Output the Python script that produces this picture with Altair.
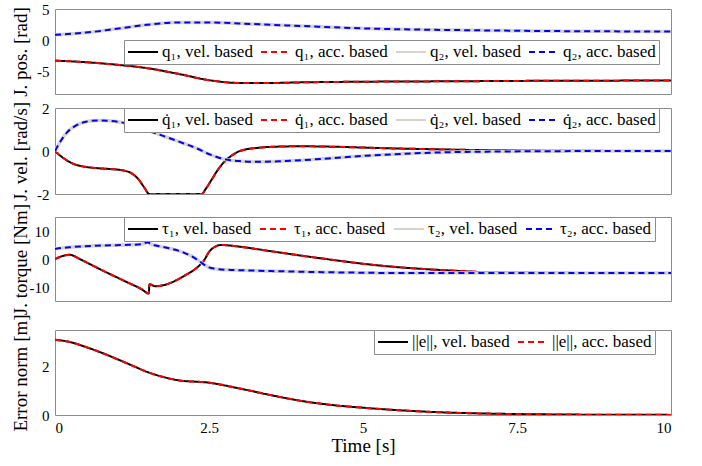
import altair as alt
import pandas as pd

FONT = "Liberation Serif"
GRAY_BOX = "#8c8c8c"

# ---- joint positions [rad] ----
t_pos = [0, 0.5, 1.0, 1.5, 2.0, 2.5, 3.0, 3.5, 4.0, 5.0, 6.0, 7.0, 8.0, 9.0, 10.0]
q1_pos = [-3.2, -3.45, -3.85, -4.4, -5.3, -6.3, -6.75, -6.75, -6.65, -6.55, -6.5, -6.45, -6.4, -6.38, -6.35]
q2_pos = [0.9, 1.25, 1.85, 2.5, 2.87, 2.86, 2.7, 2.5, 2.3, 1.92, 1.72, 1.6, 1.5, 1.45, 1.42]

# ---- joint velocities [rad/s] ----
t_vel = [0, 0.1, 0.2, 0.35, 0.5, 0.7, 0.9, 1.1, 1.25, 1.35, 1.45, 1.53, 1.6, 2.0, 2.38,
         2.45, 2.55, 2.65, 2.75, 2.85, 3.0, 3.3, 3.7, 4.0, 4.5, 5.0, 5.5, 6.0, 6.5, 7.0,
         8.0, 9.0, 10.0]
dq1_vel = [0, -0.25, -0.45, -0.65, -0.74, -0.8, -0.84, -0.9, -1.05, -1.3, -1.7, -2.0, -2.0,
           -2.0, -2.0, -1.75, -1.3, -0.85, -0.5, -0.25, 0.0, 0.15, 0.21, 0.22, 0.2, 0.16,
           0.12, 0.09, 0.06, 0.04, 0.015, 0.005, 0.0]
dq2_vel = [0, 0.5, 0.88, 1.2, 1.36, 1.42, 1.4, 1.32, 1.2, 1.1, 1.0, 0.93, 0.86, 0.45, 0.02,
           -0.08, -0.2, -0.3, -0.38, -0.43, -0.47, -0.5, -0.47, -0.43, -0.33, -0.23, -0.15,
           -0.09, -0.05, -0.03, -0.01, 0.0, 0.0]

# ---- joint torques [Nm] ----
t_tq = [0, 0.1, 0.24, 0.4, 0.6, 0.8, 1.0, 1.2, 1.4, 1.52, 1.535, 1.62, 1.75, 1.9, 2.1,
        2.25, 2.35, 2.42, 2.5, 2.6, 2.7, 2.85, 3.0, 3.5, 4.0, 4.5, 5.0, 5.5, 6.0, 6.5,
        7.0, 8.0, 9.0, 10.0]
tau1 = [0, 0.9, 1.5, 0.0, -2.2, -4.4, -6.5, -8.6, -10.7, -12.3, -9.0, -9.7, -9.4, -8.3,
        -6.0, -4.0, -2.2, -0.5, 2.5, 4.4, 5.0, 4.8, 4.4, 2.8, 1.2, -0.3, -1.7, -2.8, -3.6,
        -4.2, -4.7, -4.9, -5.0, -5.0]
tau2 = [3.6, 3.9, 4.2, 4.45, 4.7, 4.85, 4.95, 5.05, 5.3, 6.0, 5.6, 4.9, 4.3, 3.6, 2.2,
        0.6, -0.9, -2.0, -3.0, -3.5, -3.75, -3.9, -4.0, -4.3, -4.55, -4.75, -4.9, -5.0,
        -5.0, -5.0, -5.0, -5.0, -5.0, -5.0]

# ---- end-effector error norm [m] ----
t_err = [0, 0.25, 0.5, 0.75, 1.0, 1.25, 1.5, 1.8, 2.0, 2.5, 3.0, 3.5, 4.0, 4.5, 5.0,
         5.5, 6.0, 6.5, 7.0, 8.0, 9.0, 10.0]
err_norm = [3.1, 3.0, 2.8, 2.57, 2.31, 2.04, 1.77, 1.54, 1.43, 1.33, 1.09, 0.82, 0.58,
            0.41, 0.3, 0.21, 0.14, 0.09, 0.06, 0.025, 0.01, 0.005]

# ---- series styling ----
COLORS = ["#000000", "#ff0000", "#d6d3cc", "#0000ff"]
DASHES = [[1, 0], [6, 4], [1, 0], [6, 4]]
WIDTHS = [2, 2, 3.5, 2]

PLOT_W = 616


def long_frame(t, series):
    rows = []
    for label, values in series:
        for ti, v in zip(t, values):
            rows.append({"t": ti, "v": v, "s": label})
    return pd.DataFrame(rows)


def panel(df, labels, ydomain, yticks, ytitle, lx, ly, height, show_x=False):
    n = len(labels)
    legend = alt.Legend(
        orient="none", legendX=lx, legendY=ly, direction="horizontal", columns=n,
        title=None, symbolType="stroke", symbolSize=900, symbolStrokeWidth=2,
        labelFont=FONT, labelFontSize=17, labelColor="black", labelLimit=300,
        padding=3, strokeColor=GRAY_BOX, fillColor="white", columnPadding=7,
        labelOffset=3, clipHeight=18,
    )
    color = alt.Color("s:N", scale=alt.Scale(domain=labels, range=COLORS[:n]), legend=legend)
    dash = alt.StrokeDash("s:N", scale=alt.Scale(domain=labels, range=DASHES[:n]), legend=legend)
    if show_x:
        xaxis = alt.Axis(values=[0, 2.5, 5, 7.5, 10], title="Time [s]", grid=False,
                         ticks=False, tickSize=0, domain=False, labelPadding=5,
                         labelExpr="'' + datum.value", titlePadding=1)
    else:
        xaxis = None
    x = alt.X("t:Q", scale=alt.Scale(domain=[0, 10], nice=False), axis=xaxis)
    y = alt.Y("v:Q", scale=alt.Scale(domain=ydomain, nice=False, zero=False),
              axis=alt.Axis(values=yticks, title=ytitle, grid=False, ticks=False,
                            tickSize=0, domain=False, labelPadding=6,
                            labelExpr="'' + datum.value", titleX=-35,
                            titleBaseline="middle"))
    layers = []
    for i, lab in enumerate(labels):
        layers.append(
            alt.Chart(df).transform_filter(alt.datum.s == lab)
            .mark_line(strokeWidth=WIDTHS[i], interpolate="monotone", clip=True)
            .encode(x=x, y=y, color=color, strokeDash=dash)
        )
    return alt.layer(*layers).properties(width=PLOT_W, height=height)


def gap(h):
    # empty band that separates two panels
    return (
        alt.Chart(pd.DataFrame({"g": [0]}))
        .mark_point(opacity=0)
        .encode(x=alt.X("g:Q", axis=None), y=alt.Y("g:Q", axis=None))
        .properties(width=PLOT_W, height=h, view=alt.ViewBackground(stroke=None))
    )


pos_labels = ["q₁, vel. based", "q₁, acc. based", "q₂, vel. based", "q₂, acc. based"]
vel_labels = ["q\u0307₁, vel. based", "q\u0307₁, acc. based",
              "q\u0307₂, vel. based", "q\u0307₂, acc. based"]
tq_labels = ["τ₁, vel. based", "τ₁, acc. based", "τ₂, vel. based", "τ₂, acc. based"]
err_labels = ["||e||, vel. based", "||e||, acc. based"]

p_pos = panel(long_frame(t_pos, zip(pos_labels, [q1_pos, q1_pos, q2_pos, q2_pos])),
              pos_labels, [-8.5, 5], [-5, 0, 5], "J. pos. [rad]", 69, 31, 85)
p_vel = panel(long_frame(t_vel, zip(vel_labels, [dq1_vel, dq1_vel, dq2_vel, dq2_vel])),
              vel_labels, [-2, 2], [-2, 0, 2], "J. vel. [rad/s]", 69, 0, 86)
p_tq = panel(long_frame(t_tq, zip(tq_labels, [tau1, tau1, tau2, tau2])),
             tq_labels, [-15, 15], [-10, 0, 10], "J. torque [Nm]", 69, 0, 84)
p_err = panel(long_frame(t_err, zip(err_labels, [err_norm, err_norm])),
              err_labels, [0, 3.5], [0, 2], "Error norm [m]", 319, 0, 85, show_x=True)

chart = (
    alt.vconcat(p_pos, gap(14), p_vel, gap(23), p_tq, gap(29), p_err,
                spacing=0, bounds="flush")
    .resolve_scale(color="independent", strokeDash="independent",
                   x="independent", y="independent")
    .properties(padding={"left": 10, "top": 1, "right": 20, "bottom": 8},
                background="white")
    .configure_view(stroke=GRAY_BOX, strokeWidth=1)
    .configure_axis(labelFont=FONT, labelFontSize=15, labelColor="black",
                    titleFont=FONT, titleFontSize=19, titleFontWeight="normal",
                    titleColor="black")
)

chart.save("out.html", embed_options={"renderer": "svg", "actions": False})
